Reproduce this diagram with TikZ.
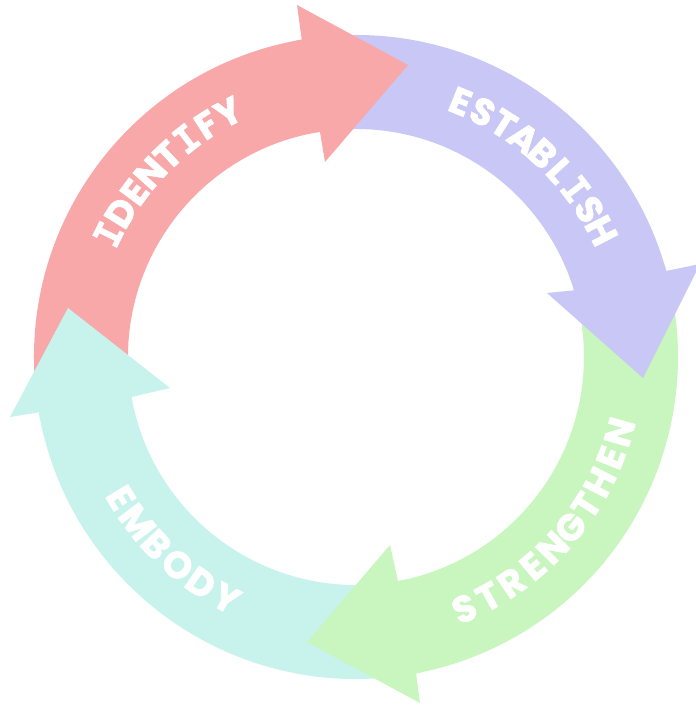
\documentclass[tikz,border=0pt]{standalone}
\usepackage{fontspec}
\newfontfamily\labelfont{Poppins}[FakeBold=2]
\newfontfamily\slabfont{DejaVu Sans Mono}[FakeBold=1.5]
\newcommand\lblfont{\labelfont\bfseries\fontsize{37}{37}\selectfont}
\newcommand\sI{{\slabfont\bfseries I}}
\newlength\chwidth
\definecolor{redA}{HTML}{F8A8A8}
\definecolor{blueA}{HTML}{C8C7F5}
\definecolor{greenA}{HTML}{C9F5BF}
\definecolor{tealA}{HTML}{C8F3EC}
\tikzset{
  lettr/.style={font=\lblfont, text=white, inner sep=0pt, anchor=base},
  redpart/.style={fill=redA, draw=none},
  bluepart/.style={fill=blueA, draw=none},
  greenpart/.style={fill=greenA, draw=none},
  tealpart/.style={fill=tealA, draw=none}
}
% #1 letters, #2 centre angle, #3 baseline radius, #4 dir (1 cw, -1 ccw), #5 span (deg), #6 name prefix
\newcommand\arclabel[6]{%
  \gdef\sumw{0}\gdef\firstw{0pt}\gdef\lastw{0pt}\gdef\nch{0}%
  \foreach \ch [count=\k] in {#1}{%
    \settowidth\chwidth{\lblfont\ch}%
    \pgfmathsetmacro\tmp{\sumw+\chwidth}\xdef\sumw{\tmp}%
    \ifnum\k=1 \xdef\firstw{\the\chwidth}\fi
    \xdef\lastw{\the\chwidth}\xdef\nch{\k}%
  }%
  \pgfmathsetmacro\arclen{#5*pi/180*#3}%
  \pgfmathsetmacro\trk{(\arclen-(\sumw-\firstw/2-\lastw/2))/(\nch-1)}%
  \pgfmathsetmacro\edge{-\arclen/2-\firstw/2}\xdef\curedge{\edge}%
  \foreach \ch [count=\k] in {#1}{%
    \settowidth\chwidth{\lblfont\ch}%
    \pgfmathsetmacro\ang{#2-(#4)*(\curedge+\chwidth/2)/#3*180/pi}%
    \pgfmathsetmacro\rot{\ang-(#4)*90}%
    \node[lettr,rotate=\rot] (#6\k) at (\ang:#3) {\ch};%
    \pgfmathsetmacro\tmp{\curedge+\chwidth+\trk}\xdef\curedge{\tmp}%
  }%
}
\begin{document}
\begin{tikzpicture}[x=1pt,y=1pt]
\useasboundingbox (-356,-348) rectangle (340,357);
\fill[white] (-356,-348) rectangle (340,357);
\clip (-356,-348) rectangle (340,357);
% bodies
\fill[redpart] (186:322) arc[start angle=186, end angle=98.7, radius=322]
  -- (98.1:228) arc[start angle=98.1, end angle=186, radius=228] -- cycle;
\fill[bluepart] (95:322) arc[start angle=95, end angle=14.5, radius=322]
  -- (16:228) arc[start angle=16, end angle=95, radius=228] -- cycle;
\fill[greenpart] (12:322) arc[start angle=12, end angle=-80.25, radius=322]
  -- (-80.4:228) arc[start angle=-80.4, end angle=12, radius=228] -- cycle;
\fill[tealpart] (276:322) arc[start angle=276, end angle=188.9, radius=322]
  -- (189.1:228) arc[start angle=189.1, end angle=276, radius=228] -- cycle;
% heads
\fill[redpart] (100.7:322) -- (99.7:322) -- (-59,352) -- (52,292) -- (-31,195) -- (99.1:228) -- (100.1:228) -- cycle;
\fill[bluepart] (16.5:322) -- (15.5:322) -- (344,93) -- (287,-21) -- (191,64) -- (17:228) -- (18:228) -- cycle;
\fill[greenpart] (-78.25:322) -- (-79.25:322) -- (64,-346) -- (-49,-285) -- (34,-188) -- (-79.4:228) -- (-78.4:228) -- cycle;
\fill[tealpart] (190.9:322) -- (189.9:322) -- (-346,-60) -- (-288,49) -- (-186,-31) -- (190.1:228) -- (191.1:228) -- cycle;
% labels
\arclabel{\sI,D,E,N,T,\sI,F,Y}{135.6}{263}{1}{36.1}{id}
\arclabel{E,S,T,A,B,L,\sI,S,H}{47.5}{263}{1}{40.5}{es}
\arclabel{S,T,R,E,N,G,T,H,E,N}{-41.3}{287}{-1}{50.8}{st}
\arclabel{E,M,B,O,D,Y}{226.3}{287}{-1}{30.8}{em}
\end{tikzpicture}
\end{document}
